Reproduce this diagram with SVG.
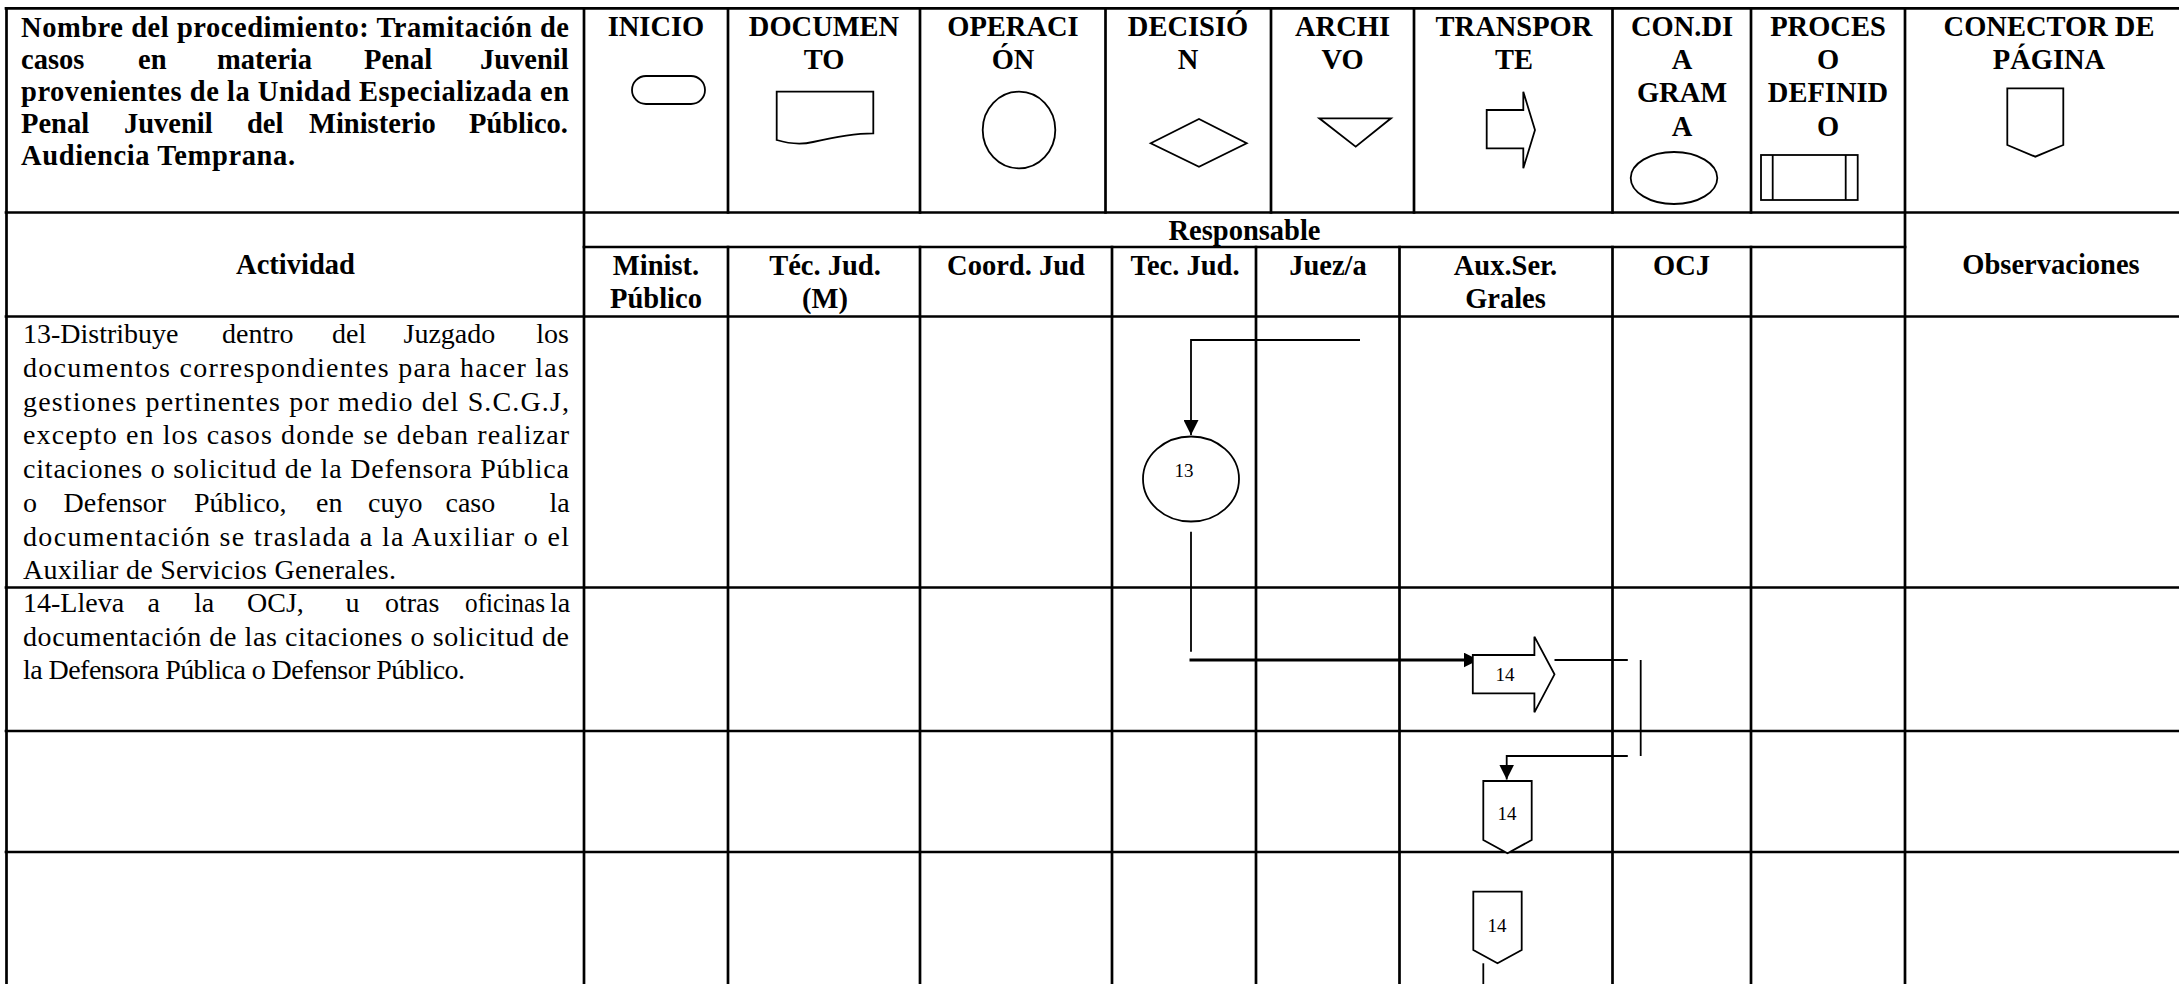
<svg xmlns="http://www.w3.org/2000/svg" width="2179" height="984" viewBox="0 0 2179 984">
<style>
.grid{stroke:#000;stroke-width:2.7;fill:none;stroke-linecap:square}
.shape{stroke:#000;stroke-width:1.8;fill:#fff}
.conn{stroke:#000;stroke-width:1.8;fill:none}
.thick{stroke:#000;stroke-width:2.8;fill:none}
.b{font-family:"Liberation Serif","Times New Roman",serif;font-weight:bold;font-size:28.5px;fill:#000}
.bc{font-family:"Liberation Serif","Times New Roman",serif;font-weight:bold;font-size:28.5px;fill:#000;text-anchor:middle}
.r{font-family:"Liberation Serif","Times New Roman",serif;font-size:28px;fill:#000}
.lbl{font-family:"Liberation Serif","Times New Roman",serif;font-size:19px;fill:#000;text-anchor:middle}
</style>
<defs>
<marker id="ah" markerUnits="userSpaceOnUse" markerWidth="15" markerHeight="15" viewBox="0 0 10 10" refX="10" refY="5" orient="auto"><path d="M0,0L10,5L0,10z" fill="#000"/></marker>
</defs>
<rect x="0" y="0" width="2179" height="984" fill="#fff"/>

<g id="table-grid" class="grid">
<path d="M6,8.3H2179M6,212.5H2179M584,247H1905M6,316.5H2179M6,587.5H2179M6,731H2179M6,852H2179"/>
<path d="M6.5,8.3V984M584,8.3V984M1905,8.3V984"/>
<path d="M728,8.3V212.5M920,8.3V212.5M1105.5,8.3V212.5M1271,8.3V212.5M1414,8.3V212.5M1612.5,8.3V212.5M1751,8.3V212.5"/>
<path d="M728,247V984M920,247V984M1112,247V984M1256,247V984M1399.5,247V984M1612.5,247V984M1751,247V984"/>
</g>

<g id="title">
<text class="b" x="21" y="37" textLength="548" lengthAdjust="spacing">Nombre del procedimiento: Tramitación de</text>
<text class="b" y="69"><tspan x="21">casos</tspan><tspan x="138">en</tspan><tspan x="217">materia</tspan><tspan x="364">Penal</tspan><tspan x="480">Juvenil</tspan></text>
<text class="b" x="21" y="101" textLength="548" lengthAdjust="spacing">provenientes de la Unidad Especializada en</text>
<text class="b" y="133"><tspan x="21">Penal</tspan><tspan x="124">Juvenil</tspan><tspan x="247">del</tspan><tspan x="309">Ministerio</tspan><tspan x="469">Público.</tspan></text>
<text class="b" x="21" y="165" textLength="274" lengthAdjust="spacing">Audiencia Temprana.</text>
</g>

<g id="legend-headers">
<text class="bc" x="656" y="36">INICIO</text>
<text class="bc" x="824" y="36">DOCUMEN<tspan x="824" y="69">TO</tspan></text>
<text class="bc" x="1013" y="36">OPERACI<tspan x="1013" y="69">ÓN</tspan></text>
<text class="bc" x="1188" y="36">DECISIÓ<tspan x="1188" y="69">N</tspan></text>
<text class="bc" x="1342.5" y="36">ARCHI<tspan x="1342.5" y="69">VO</tspan></text>
<text class="bc" x="1514" y="36">TRANSPOR<tspan x="1514" y="69">TE</tspan></text>
<text class="bc" x="1682" y="36">CON.DI<tspan x="1682" y="69">A</tspan><tspan x="1682" y="102">GRAM</tspan><tspan x="1682" y="135.5">A</tspan></text>
<text class="bc" x="1828" y="36">PROCES<tspan x="1828" y="69">O</tspan><tspan x="1828" y="102">DEFINID</tspan><tspan x="1828" y="135.5">O</tspan></text>
<text class="bc" x="2049" y="36">CONECTOR DE<tspan x="2049" y="69">PÁGINA</tspan></text>
</g>

<g id="legend-symbols" class="shape">
<rect id="sym-inicio" x="632" y="76" width="73" height="28" rx="14"/>
<path id="sym-documento" d="M776.7,91.7H873.3V133.3C850,133.5 830,138 813,142C800,145 790,144 776.7,140Z"/>
<ellipse id="sym-operacion" cx="1019" cy="130" rx="36.3" ry="38.3"/>
<polygon id="sym-decision" points="1150.7,143.3 1199,119 1246.7,143.3 1199,166.7"/>
<polygon id="sym-archivo" points="1319.3,118.3 1391,118.3 1355.7,146.7"/>
<polygon id="sym-transporte" points="1486.7,110 1523.3,110 1523.3,91.7 1535,130 1523.3,168.3 1523.3,148.3 1486.7,148.3"/>
<ellipse id="sym-condiagrama" cx="1674" cy="178" rx="43.3" ry="26"/>
<g id="sym-proceso"><rect x="1761" y="155" width="96.7" height="45"/><path d="M1772.7,155V200M1845.7,155V200"/></g>
<polygon id="sym-conector" points="2007.3,88.3 2063.3,88.3 2063.3,145 2035.3,156.7 2007.3,145"/>
</g>

<g id="column-headers">
<text class="bc" x="1244.5" y="240">Responsable</text>
<text class="bc" x="295.5" y="274">Actividad</text>
<text class="bc" x="2051" y="274">Observaciones</text>
<text class="bc" x="656" y="275">Minist.<tspan x="656" y="307.5">Público</tspan></text>
<text class="bc" x="825" y="275">Téc. Jud.<tspan x="825" y="307.5">(M)</tspan></text>
<text class="bc" x="1016" y="275">Coord. Jud</text>
<text class="bc" x="1185" y="275">Tec. Jud.</text>
<text class="bc" x="1328" y="275">Juez/a</text>
<text class="bc" x="1505.5" y="275">Aux.Ser.<tspan x="1505.5" y="307.5">Grales</tspan></text>
<text class="bc" x="1681.5" y="275">OCJ</text>
</g>

<g id="activity-13">
<text class="r" y="343.3"><tspan x="23">13-Distribuye</tspan><tspan x="222">dentro</tspan><tspan x="332">del</tspan><tspan x="403.5">Juzgado</tspan><tspan x="536.3">los</tspan></text>
<text class="r" x="23" y="377" textLength="546" lengthAdjust="spacing">documentos correspondientes para hacer las</text>
<text class="r" x="23" y="410.7" textLength="546" lengthAdjust="spacing">gestiones pertinentes por medio del S.C.G.J,</text>
<text class="r" x="23" y="444.4" textLength="546" lengthAdjust="spacing">excepto en los casos donde se deban realizar</text>
<text class="r" x="23" y="478.1" textLength="546" lengthAdjust="spacing">citaciones o solicitud de la Defensora Pública</text>
<text class="r" y="511.8"><tspan x="23">o</tspan><tspan x="63.5">Defensor</tspan><tspan x="194">Público,</tspan><tspan x="316">en</tspan><tspan x="368">cuyo</tspan><tspan x="445.5">caso</tspan><tspan x="549.5">la</tspan></text>
<text class="r" x="23" y="545.5" textLength="546" lengthAdjust="spacing">documentación se traslada a la Auxiliar o el</text>
<text class="r" x="23" y="579.2" textLength="373" lengthAdjust="spacing">Auxiliar de Servicios Generales.</text>
</g>

<g id="activity-14">
<text class="r" y="612"><tspan x="23">14-Lleva</tspan><tspan x="147.5">a</tspan><tspan x="194">la</tspan><tspan x="247">OCJ,</tspan><tspan x="345.5">u</tspan><tspan x="385">otras</tspan></text>
<text class="r" x="465" y="612" textLength="80" lengthAdjust="spacingAndGlyphs">oficinas</text>
<text class="r" x="550" y="612">la</text>
<text class="r" x="23" y="645.5" textLength="546" lengthAdjust="spacing">documentación de las citaciones o solicitud de</text>
<text class="r" x="23" y="679" textLength="442" lengthAdjust="spacing">la Defensora Pública o Defensor Público.</text>
</g>

<g id="connectors">
<path class="conn" d="M1360,340H1191V435" marker-end="url(#ah)"/>
<path class="conn" d="M1191,531.7V651.7"/>
<path class="thick" d="M1189.5,660H1478.6" marker-end="url(#ah)"/>
<path class="conn" d="M1554.5,660H1627.8"/>
<path class="conn" d="M1640.7,660V756"/>
<path class="conn" d="M1627.8,756H1506.7V779.5" marker-end="url(#ah)"/>
<path class="conn" d="M1483.3,963.3V984"/>
</g>

<g id="node-13">
<ellipse class="shape" cx="1191" cy="479" rx="48" ry="42.5"/>
<text class="lbl" x="1184" y="477">13</text>
</g>

<g id="node-14-transporte">
<polygon class="shape" points="1472.8,655 1534.4,655 1534.4,636.7 1554.5,674.3 1534.4,712.3 1534.4,693.3 1472.8,693.3"/>
<text class="lbl" x="1505" y="681">14</text>
</g>

<g id="node-14-conector-a">
<polygon class="shape" points="1483.3,781 1531.7,781 1531.7,840 1507.5,853.3 1483.3,840"/>
<text class="lbl" x="1507" y="820">14</text>
</g>

<g id="node-14-conector-b">
<polygon class="shape" points="1473.3,891.7 1521.7,891.7 1521.7,950 1497.5,963.3 1473.3,950"/>
<text class="lbl" x="1497" y="931.5">14</text>
</g>
</svg>
